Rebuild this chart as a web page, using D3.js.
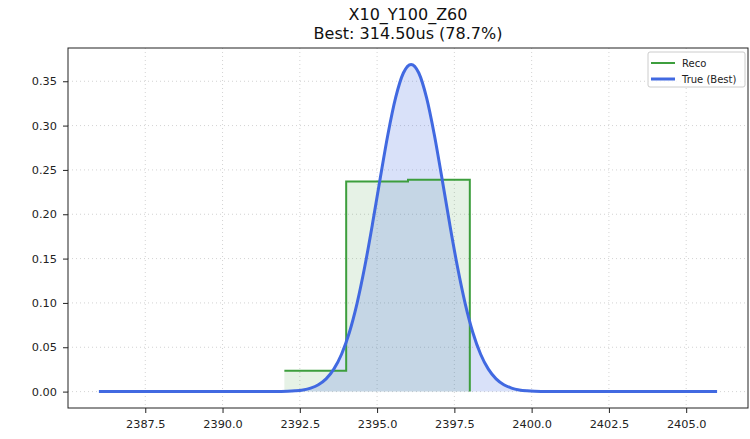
<!DOCTYPE html>
<html><head><meta charset="utf-8">
<script src="https://cdn.jsdelivr.net/npm/d3@7"></script>
<style>body{margin:0;background:#fff}svg{display:block;font-family:"DejaVu Sans",sans-serif}</style>
</head><body>
<script>
// Reco histogram (step, where='post')
const recoEdges = [2392, 2394, 2396, 2398];
const recoValues = [0.0234, 0.2370, 0.2390, 0.0];
// True (Best) curve
const trueX = [2386, 2391.1, 2391.35, 2391.6, 2391.85, 2392.1, 2392.35, 2392.6, 2392.85, 2393.1, 2393.35, 2393.6, 2393.85, 2394.1, 2394.35, 2394.6, 2394.85, 2395.1, 2395.35, 2395.6, 2395.85, 2396.1, 2396.35, 2396.6, 2396.85, 2397.1, 2397.35, 2397.6, 2397.85, 2398.1, 2398.35, 2398.6, 2398.85, 2399.1, 2399.35, 2399.6, 2399.85, 2400.1, 2400.35, 2400.6, 2400.85, 2401.1, 2406];
const trueY = [0, 0, 0, 0.0001, 0.0002, 0.0004, 0.0009, 0.0019, 0.0040, 0.0078, 0.0144, 0.0253, 0.0421, 0.0664, 0.0993, 0.1407, 0.1889, 0.2404, 0.2900, 0.3315, 0.3593, 0.3690, 0.3593, 0.3315, 0.2900, 0.2404, 0.1889, 0.1407, 0.0993, 0.0664, 0.0421, 0.0253, 0.0144, 0.0078, 0.0040, 0.0019, 0.0009, 0.0004, 0.0002, 0.0001, 0, 0, 0];
const xTicks = [2387.5, 2390.0, 2392.5, 2395.0, 2397.5, 2400.0, 2402.5, 2405.0];
const yTicks = [0.00, 0.05, 0.10, 0.15, 0.20, 0.25, 0.30, 0.35];
const titleLines = ["X10_Y100_Z60", "Best: 314.50us (78.7%)"];
const legendLabels = ["Reco", "True (Best)"];

const W = 750, H = 439;
const L = 68, R = 748, T = 48, B = 408;
const svg = d3.select("body").append("svg").attr("width", W).attr("height", H);
const x = d3.scaleLinear().domain([2385, 2407]).range([L, R]);
const y = d3.scaleLinear().domain([-0.0185, 0.3875]).range([B, T]);
const blue = "#4169e1", green = "#3d9e3d";

// grid
const g = svg.append("g");
g.selectAll(".gx").data(xTicks).enter().append("line")
  .attr("x1", d => x(d)).attr("x2", d => x(d)).attr("y1", T).attr("y2", B)
  .attr("stroke", "#c8c8c8").attr("stroke-width", 0.8).attr("stroke-dasharray", "1,3");
g.selectAll(".gy").data(yTicks).enter().append("line")
  .attr("y1", d => y(d)).attr("y2", d => y(d)).attr("x1", L).attr("x2", R)
  .attr("stroke", "#c8c8c8").attr("stroke-width", 0.8).attr("stroke-dasharray", "1,3");

const recoPts = recoEdges.map((e, i) => [e, recoValues[i]]);
const truePts = trueX.map((v, i) => [v, trueY[i]]);
svg.append("path")
  .attr("d", d3.area().curve(d3.curveStepAfter).x(d => x(d[0])).y0(y(0)).y1(d => y(d[1]))(recoPts))
  .attr("fill", green).attr("fill-opacity", 0.13);
svg.append("path")
  .attr("d", d3.area().curve(d3.curveMonotoneX).x(d => x(d[0])).y0(y(0)).y1(d => y(d[1]))(truePts))
  .attr("fill", blue).attr("fill-opacity", 0.2);

svg.append("path").attr("d", d3.line().curve(d3.curveStepAfter).x(d => x(d[0])).y(d => y(d[1]))(recoPts))
  .attr("fill", "none").attr("stroke", green).attr("stroke-width", 2);
svg.append("path").attr("d", d3.line().curve(d3.curveMonotoneX).x(d => x(d[0])).y(d => y(d[1]))(truePts))
  .attr("fill", "none").attr("stroke", blue).attr("stroke-width", 3);

// frame
svg.append("rect").attr("x", L).attr("y", T).attr("width", R - L).attr("height", B - T)
  .attr("fill", "none").attr("stroke", "#222").attr("stroke-width", 1);

// axes
const xa = svg.append("g").attr("transform", `translate(0,${B})`)
  .call(d3.axisBottom(x).tickValues(xTicks).tickFormat(d3.format(".1f")).tickSize(5).tickPadding(7));
const ya = svg.append("g").attr("transform", `translate(${L},0)`)
  .call(d3.axisLeft(y).tickValues(yTicks).tickFormat(d3.format(".2f")).tickSize(5).tickPadding(6));
[xa, ya].forEach(a => {
  a.select(".domain").remove();
  a.selectAll("line").attr("stroke", "#222");
  a.selectAll("text").attr("font-size", 11.3).attr("fill", "#222").attr("font-family", "DejaVu Sans");
});

// title
svg.selectAll(".title").data(titleLines).enter().append("text")
  .attr("x", (L + R) / 2).attr("y", (d, i) => 20 + i * 19).attr("text-anchor", "middle")
  .attr("font-size", 16).attr("fill", "#111").text(d => d);

// legend
const lg = svg.append("g");
lg.append("rect").attr("x", 648).attr("y", 52).attr("width", 97).attr("height", 35).attr("rx", 2)
  .attr("fill", "#fff").attr("fill-opacity", 0.8).attr("stroke", "#ccc");
const lcol = [green, blue], lw = [2, 3];
legendLabels.forEach((t, i) => {
  const yy = 63 + i * 16;
  lg.append("line").attr("x1", 651).attr("x2", 675).attr("y1", yy).attr("y2", yy)
    .attr("stroke", lcol[i]).attr("stroke-width", lw[i]);
  lg.append("text").attr("x", 682).attr("y", yy + 3.5).attr("font-size", 10).attr("fill", "#222").text(t);
});
</script>
</body></html>
